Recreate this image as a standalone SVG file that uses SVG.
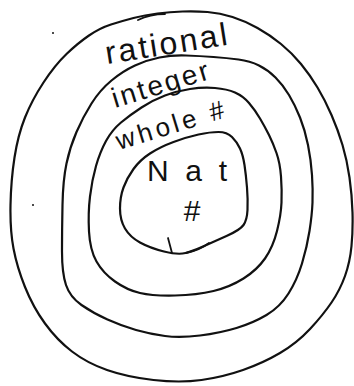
<svg xmlns="http://www.w3.org/2000/svg" width="354" height="386" viewBox="0 0 354 386">
<style>
.ring{fill:none;stroke:#111;stroke-width:2.2;stroke-linejoin:round;stroke-linecap:round}
.mark{fill:none;stroke:#111;stroke-width:1.8;stroke-linecap:round}
.lbl{font-family:"Liberation Sans","DejaVu Sans",sans-serif;fill:#111}
</style>
<rect width="354" height="386" fill="#fff"/>
<g id="rational">
<path class="ring" d="M89,35.5 Q100,28 111,24.5 Q122,21 133.5,18 Q145,15 157.5,13.5 Q170,12 182.5,11.5 Q195,11 207.5,12 Q220,13 232.5,17 Q245,21 257.5,28 Q270,35 281,44 Q292,53 301,64 Q310,75 317.5,87.5 Q325,100 331.5,115 Q338,130 342.5,145 Q347,160 349.5,177.5 Q352,195 352.5,212.5 Q353,230 351.5,246 Q350,262 345,276 Q340,290 331.5,302.5 Q323,315 310,329 Q297,343 280,353 Q263,363 243,370 Q223,377 201.5,380 Q180,383 153.5,380 Q127,377 107,370 Q87,363 72,351.5 Q57,340 45,323.5 Q33,307 25,287 Q17,267 13.5,248.5 Q10,230 10.5,205 Q11,180 14.5,157.5 Q18,135 25,117.5 Q32,100 43.5,82.5 Q55,65 66.5,54 Q78,43 89,35.5 Z"/>
<path class="mark" d="M138,20 Q150,14 165,14"/>
<text class="lbl" x="107" y="64" font-size="32" textLength="123" lengthAdjust="spacing" transform="rotate(-9 107 64)">rational</text>
</g>
<g id="integer">
<path class="ring" d="M91.5,103.5 Q100,90 111.5,80.5 Q123,71 135,65.5 Q147,60 159.5,57.5 Q172,55 186,55.5 Q200,56 213.5,57 Q227,58 238.5,59.5 Q250,61 259,65.5 Q268,70 275.5,77.5 Q283,85 289,95 Q295,105 300,117.5 Q305,130 308,145 Q311,160 312,175 Q313,190 312.5,202.5 Q312,215 309.5,231 Q307,247 302,263.5 Q297,280 288.5,293.5 Q280,307 266.5,315 Q253,323 236.5,328 Q220,333 200,335.5 Q180,338 165,336 Q150,334 136,330 Q122,326 107.5,319.5 Q93,313 81.5,305 Q70,297 66,285 Q62,273 62,251.5 Q62,230 62.5,205 Q63,180 66.5,163.5 Q70,147 76.5,132 Q83,117 91.5,103.5 Z"/>
<text class="lbl" x="115" y="108" font-size="28" textLength="100" lengthAdjust="spacing" transform="rotate(-17 115 108)">integer</text>
</g>
<g id="whole">
<path class="ring" d="M106,141 Q112,130 121,122.5 Q130,115 141.5,107.5 Q153,100 165,95.5 Q177,91 190,89 Q203,87 215,88 Q227,89 235,92.5 Q243,96 249,103 Q255,110 260,118.5 Q265,127 269,135 Q273,143 276.5,153 Q280,163 281,176.5 Q282,190 281.5,202.5 Q281,215 277,231 Q273,247 265,258.5 Q257,270 243.5,278.5 Q230,287 213.5,291 Q197,295 175,295.5 Q153,296 140,293 Q127,290 115,281.5 Q103,273 96.5,261.5 Q90,250 89,231.5 Q88,213 90,196.5 Q92,180 96,166 Q100,152 106,141 Z"/>
<text class="lbl" x="119" y="150" font-size="26" textLength="112" lengthAdjust="spacing" transform="rotate(-17 119 150)">whole #</text>
</g>
<g id="natural">
<path class="ring" d="M133.5,169 Q140,160 150,153.5 Q160,147 173.5,142 Q187,137 198.5,134.5 Q210,132 218.5,132 Q227,132 232,137 Q237,142 240,148.5 Q243,155 244.5,165 Q246,175 247,187.5 Q248,200 247.5,210 Q247,220 243.5,225 Q240,230 226.5,236 Q213,242 203,246.5 Q193,251 185.5,253 Q178,255 164,251.5 Q150,248 140,242.5 Q130,237 125,228.5 Q120,220 120,208.5 Q120,197 123.5,187.5 Q127,178 133.5,169 Z"/>
<path class="mark" d="M168,238 L172,253"/>
<path class="mark" d="M186,253 Q200,250 209,243"/>
<text class="lbl" x="147" y="181" font-size="30" textLength="80" lengthAdjust="spacing">Nat</text>
<text class="lbl" x="192" y="221" font-size="30" text-anchor="middle">#</text>
</g>
<circle cx="53" cy="33" r="1" fill="#111"/>
<circle cx="33" cy="205" r="1" fill="#111"/>
</svg>
